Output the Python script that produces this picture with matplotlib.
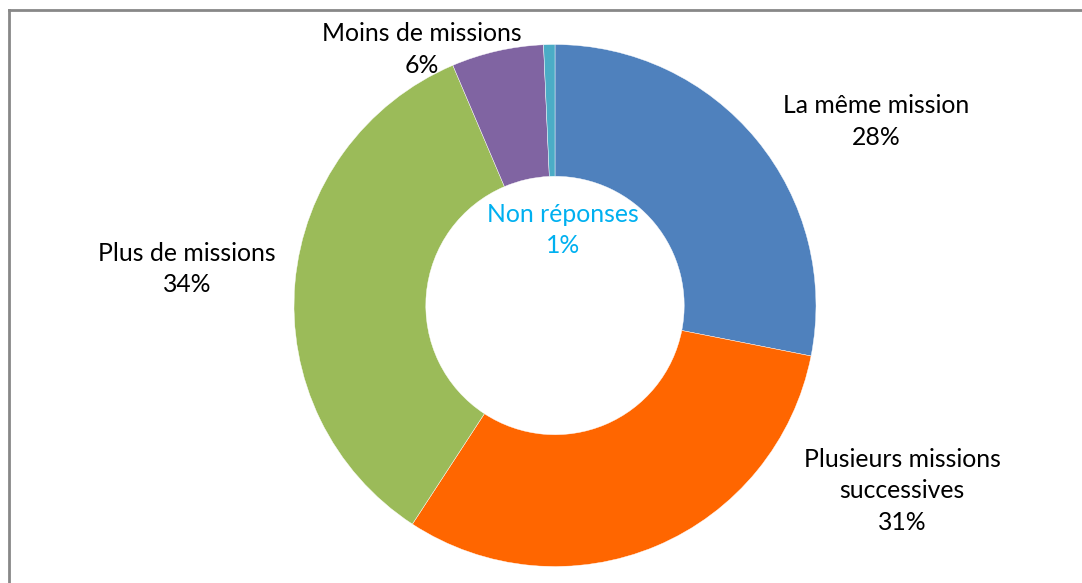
import matplotlib
matplotlib.use("Agg")
import matplotlib.pyplot as plt
from matplotlib.lines import Line2D

# data
labels = ["La même mission", "Plusieurs missions\nsuccessives", "Plus de missions",
          "Moins de missions", "Non réponses"]
values = [28.1, 31.1, 34.4, 5.7, 0.7]
pct_labels = ["28%", "31%", "34%", "6%", "1%"]
colors = ["#4F81BD", "#FF6600", "#9BBB59", "#8064A2", "#4BACC6"]

# label positions (in units of the outer radius, relative to centre)
label_pos = [(1.23, 0.705), (1.33, -0.71), (-1.41, 0.14), (-0.51, 0.98), (0.03, 0.29)]
label_colors = ["black", "black", "black", "black", "#00B0F0"]

W, H = 1082, 583
cx, cy, R = 555, 305.5, 261

fig = plt.figure(figsize=(W / 100, H / 100), dpi=100)
ax = fig.add_axes([0, 0, 1, 1])
ax.pie(values, colors=colors, startangle=90, counterclock=False, radius=1,
       wedgeprops=dict(width=0.505, edgecolor="white", linewidth=0.3))
ax.set_xlim(-cx / R, (W - cx) / R)
ax.set_ylim(-(H - cy) / R, cy / R)
ax.set_aspect("auto")
ax.axis("off")

for lab, pct, (x, y), c in zip(labels, pct_labels, label_pos, label_colors):
    ax.text(x, y, lab + "\n" + pct, ha="center", va="center", fontsize=17.8,
            color=c, family=["Lato", "DejaVu Sans"], linespacing=1.45)

# chart frame (left and top edges visible)
fig.add_artist(Line2D([9 / W, 9 / W], [0, 1 - 10 / H], transform=fig.transFigure,
                      color="#888888", lw=2))
fig.add_artist(Line2D([9 / W, 1], [1 - 10 / H, 1 - 10 / H], transform=fig.transFigure,
                      color="#888888", lw=2))

fig.savefig("out.png", dpi=100)
